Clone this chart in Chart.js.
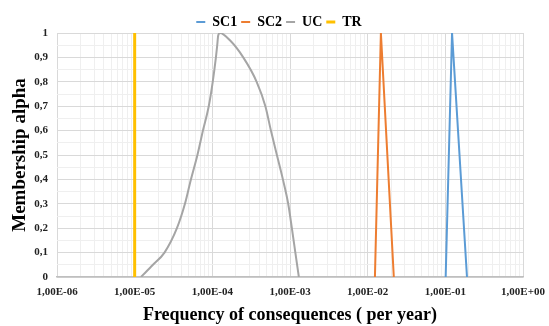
<!DOCTYPE html>
<html><head><meta charset="utf-8">
<script src="https://cdn.jsdelivr.net/npm/chart.js@4/dist/chart.umd.min.js"></script>
<style>html,body{margin:0;padding:0;background:#fff}#wrap{width:549px;height:326px}</style>
</head><body><div id="wrap"><canvas id="c" width="549" height="326"></canvas></div>
<script>
const seriesNames = ['SC1', 'SC2', 'UC', 'TR'];
const sc1X = [1.01e-1, 1.22e-1, 1.9e-1];
const sc1Y = [0, 1, 0];
const sc2X = [1.24e-2, 1.48e-2, 2.17e-2];
const sc2Y = [0, 1, 0];
const ucX = [1.205e-5, 1.72e-5, 2.42e-5, 3.5e-5, 4.44e-5, 5.3e-5, 6.43e-5, 7.57e-5, 8.99e-5, 1.012e-4, 1.112e-4, 1.156e-4, 1.19e-4, 1.253e-4, 1.685e-4, 2.5e-4, 3.72e-4, 4.82e-4, 5.68e-4, 6.78e-4, 8.1e-4, 9.48e-4, 1.057e-3, 1.172e-3, 1.3e-3];
const ucY = [0, 0.05, 0.1, 0.2, 0.3, 0.4, 0.5, 0.6, 0.7, 0.8, 0.9, 0.95, 0.99, 1.0, 0.97, 0.9, 0.8, 0.7, 0.6, 0.5, 0.4, 0.3, 0.2, 0.1, 0];
const trX = [1e-5, 1e-5];
const trY = [0, 1];
const xTickExponents = [-6, -5, -4, -3, -2, -1, 0];
const yTickLabels = ['0', '0,1', '0,2', '0,3', '0,4', '0,5', '0,6', '0,7', '0,8', '0,9', '1'];

const pts = (xs, ys) => xs.map((x, i) => ({x: x, y: ys[i]}));
const colors = ['#5B9BD5', '#ED7D31', '#A5A5A5', '#FFC000'];
const serif = "'Liberation Serif', 'DejaVu Serif', serif";

function fmtExp(e) {
  const s = e < 0 ? '-' : '+';
  const a = Math.abs(e);
  return '1,00E' + s + (a < 10 ? '0' + a : a);
}

new Chart(document.getElementById('c'), {
  type: 'line',
  data: {
    datasets: [
      {label: seriesNames[0], data: pts(sc1X, sc1Y), borderColor: colors[0], backgroundColor: colors[0], borderWidth: 2, pointRadius: 0, tension: 0},
      {label: seriesNames[1], data: pts(sc2X, sc2Y), borderColor: colors[1], backgroundColor: colors[1], borderWidth: 2, pointRadius: 0, tension: 0},
      {label: seriesNames[2], data: pts(ucX, ucY), borderColor: colors[2], backgroundColor: colors[2], borderWidth: 2, pointRadius: 0, cubicInterpolationMode: 'monotone'},
      {label: seriesNames[3], data: pts(trX, trY), borderColor: colors[3], backgroundColor: colors[3], borderWidth: 3, pointRadius: 0, tension: 0}
    ]
  },
  options: {
    responsive: false,
    animation: false,
    layout: {padding: {left: 9, right: 0, top: 11, bottom: 0}},
    plugins: {
      legend: {
        position: 'top',
        maxHeight: 22,
        labels: {
          usePointStyle: true, pointStyle: 'line', pointStyleWidth: 9, boxWidth: 9, boxHeight: 2,
          padding: 4, color: '#000',
          font: {family: serif, size: 14, weight: 'bold'}
        }
      },
      tooltip: {enabled: false}
    },
    scales: {
      x: {
        type: 'logarithmic',
        min: 1e-6, max: 1,
        afterBuildTicks: (scale) => {
          const t = [];
          for (let e = xTickExponents[0]; e < xTickExponents[xTickExponents.length - 1]; e++) {
            for (let m = 1; m <= 9; m++) t.push({value: m * Math.pow(10, e), major: m === 1});
          }
          t.push({value: 1, major: true});
          scale.ticks = t;
        },
        afterFit: (scale) => { scale.height = 49; scale.paddingRight = 26; },
        ticks: {
          autoSkip: false, maxRotation: 0, minRotation: 0, padding: 9,
          color: '#222',
          font: {family: serif, size: 11, weight: 'bold'},
          callback: function (v) {
            const e = Math.round(Math.log10(v));
            return Math.abs(v / Math.pow(10, e) - 1) < 1e-9 && xTickExponents.includes(e) ? fmtExp(e) : '';
          }
        },
        grid: {
          color: (ctx) => {
            const v = ctx.tick ? ctx.tick.value : 0;
            const e = Math.round(Math.log10(v));
            return Math.abs(v / Math.pow(10, e) - 1) < 1e-9 ? '#d9d9d9' : '#efefef';
          },
          lineWidth: 1, drawTicks: false
        },
        border: {display: true, color: '#bfbfbf', width: 1.5},
        title: {display: true, text: 'Frequency of consequences ( per year)', color: '#000', font: {family: serif, size: 18, weight: 'bold'}, padding: {top: 4, bottom: 0}}
      },
      y: {
        min: 0, max: 1,
        afterBuildTicks: (scale) => {
          const t = [];
          for (let i = 0; i <= 20; i++) t.push({value: i / 20});
          scale.ticks = t;
        },
        afterFit: (scale) => { scale.width = 48; },
        ticks: {
          autoSkip: false, padding: 9, color: '#222',
          font: {family: serif, size: 11, weight: 'bold'},
          callback: function (v) {
            const k = Math.round(v * 20);
            return k % 2 === 0 ? yTickLabels[k / 2] : '';
          }
        },
        grid: {
          color: (ctx) => {
            const k = Math.round((ctx.tick ? ctx.tick.value : 0) * 20);
            return k % 2 === 0 ? '#d9d9d9' : '#efefef';
          },
          lineWidth: 1, drawTicks: false
        },
        border: {display: false},
        title: {display: true, text: 'Membership alpha', color: '#000', font: {family: serif, size: 19, weight: 'bold'}, padding: {top: 0, bottom: 0}}
      }
    }
  }
});
</script></body></html>
